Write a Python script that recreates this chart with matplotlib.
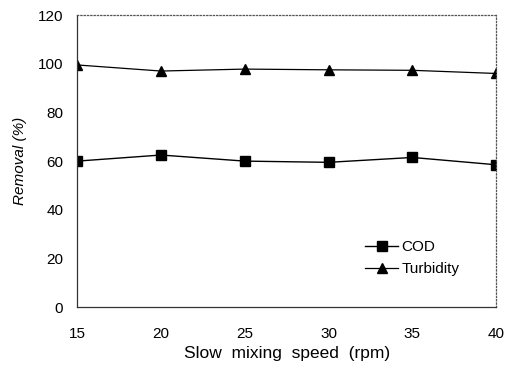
import matplotlib
matplotlib.use('Agg')
from matplotlib import pyplot as plt

# 데이터
speed = [15, 20, 25, 30, 35, 40]
cod = [60, 62.5, 60, 59.5, 61.5, 58.5]
turbidity = [99.5, 97, 97.8, 97.5, 97.3, 96]
yticks = [0, 20, 40, 60, 80, 100, 120]

plt.rcParams['font.family'] = ['Liberation Sans', 'DejaVu Sans']

fig = plt.figure(figsize=(5.11, 3.67), dpi=100)
ax = fig.add_axes([0.151, 0.163, 0.82, 0.796])

ax.plot(speed, cod, color='black', lw=1.0, marker='s', ms=7, label='COD')
ax.plot(speed, turbidity, color='black', lw=0.9, marker='^', ms=7, label='Turbidity')

ax.set_xlim(15, 40)
ax.set_ylim(0, 120)
ax.set_xticks(speed)
ax.set_yticks(yticks)
ax.tick_params(length=0, pad=14, labelsize=11)
ax.tick_params(axis='y', pad=10)

for side in ['top', 'right']:
    ax.spines[side].set_linestyle(':')
    ax.spines[side].set_color('#555555')
    ax.spines[side].set_linewidth(0.9)
for side in ['left', 'bottom']:
    ax.spines[side].set_color('#333333')
    ax.spines[side].set_linewidth(0.9)

ax.set_xlabel('Slow  mixing  speed  (rpm)', fontsize=12.5, labelpad=4)
ax.set_ylabel('Removal (%)', fontsize=11, style='italic', labelpad=8)

ax.legend(loc='lower right', bbox_to_anchor=(0.945, 0.06), frameon=False,
          fontsize=11, handlelength=2.2, handletextpad=0.2, labelspacing=0.5)

fig.savefig('out.png', dpi=100)
